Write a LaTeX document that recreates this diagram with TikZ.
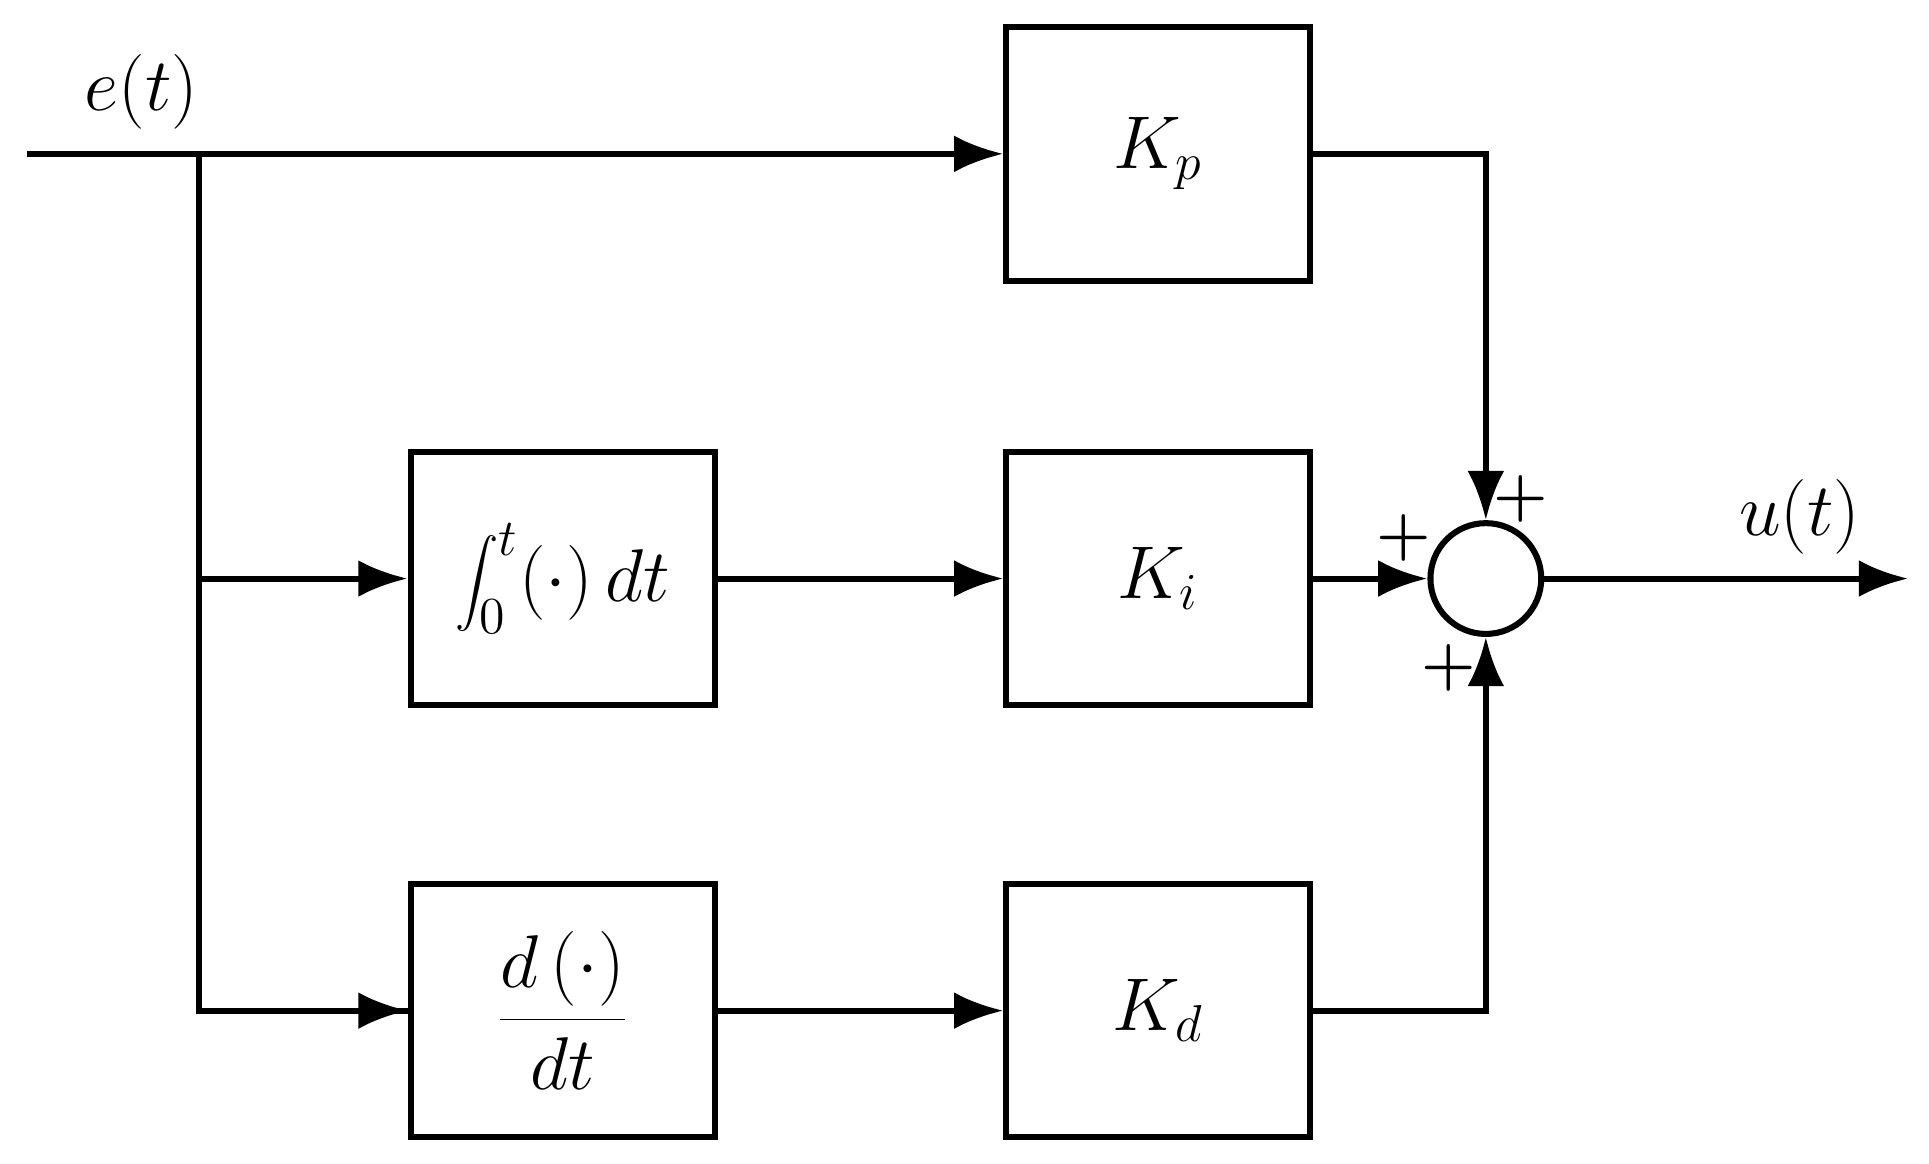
\documentclass[tikz,border=0pt]{standalone}
\usetikzlibrary{positioning,arrows.meta}
\tikzset{
  blk/.style={draw, line width=1.4pt, minimum width=2.47cm, minimum height=2.06cm, font=\fontsize{18}{20}\selectfont},
  sig/.style={line width=1.4pt, -{Latex[length=4mm,width=3mm]}},
  wire/.style={line width=1.4pt},
}
\begin{document}
\begin{tikzpicture}
  \useasboundingbox (0,0) rectangle (15.67,9.45);
  % blocks
  \node [blk] (kp) at (9.41,8.20) {$K_p$};
  \node [blk] (ki) at (9.41,4.75) {$K_i$};
  \node [blk] (kd) at (9.41,1.24) {$K_d$};
  \node [blk] (int) at (4.57,4.75) {$\displaystyle\int_0^t\!\left(\cdot\right)dt$};
  \node [blk] (der) at (4.57,1.24) {$\displaystyle\frac{d\left(\cdot\right)}{dt}$};
  \node [draw, circle, line width=1.4pt, minimum size=0.9cm] (sum) at (12.07,4.75) {};
  % coordinates
  \coordinate (in) at (0.22,8.20);
  \coordinate (br) at (1.62,8.20);
  \coordinate (out) at (15.50,4.75);
  % labels
  \node [font=\fontsize{18}{20}\selectfont] (e) at (1.15,8.70) {$e(t)$};
  \node [font=\fontsize{18}{20}\selectfont] (u) at (14.62,5.25) {$u(t)$};
  \node [font=\bfseries\Large] (p1) at (12.35,5.40) {+};
  \node [font=\bfseries\Large] (p2) at (11.40,5.08) {+};
  \node [font=\bfseries\Large] (p3) at (11.77,4.02) {+};
  % connectors
  \draw [sig] (in) -- (kp);
  \draw [wire] (br) |- (der);
  \draw [sig] (br |- der) -- (der);
  \draw [sig] (br |- int) -- (int);
  \draw [sig] (int) -- (ki);
  \draw [sig] (der) -- (kd);
  \draw [sig] (ki) -- (sum);
  \draw [sig] (kp) -| (sum);
  \draw [sig] (kd) -| (sum);
  \draw [sig] (sum) -- (out);
\end{tikzpicture}
\end{document}
